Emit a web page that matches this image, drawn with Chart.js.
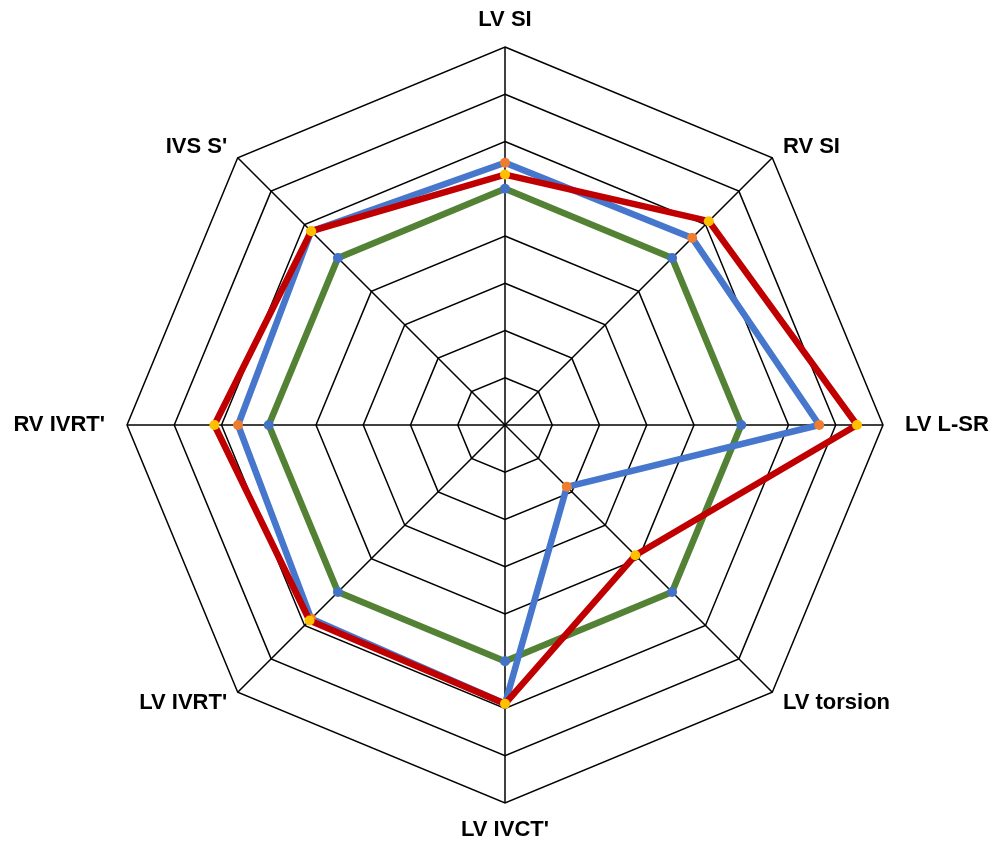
<!DOCTYPE html>
<html>
<head>
<meta charset="utf-8">
<script src="https://cdn.jsdelivr.net/npm/chart.js@4"></script>
<style>
  html, body { margin: 0; padding: 0; background: #ffffff; }
  #wrap { width: 997px; height: 850px; position: relative; }
</style>
</head>
<body>
<div id="wrap"><canvas id="radar"></canvas></div>
<script>
// Axis names, clockwise from the top
const categories = ["LV SI", "RV SI", "LV L-SR", "LV torsion", "LV IVCT'", "LV IVRT'", "RV IVRT'", "IVS S'"];

// Values in % of the reference profile
const referenceValues = [100, 100, 100, 100, 100, 100, 100, 100];
const blueValues      = [111, 112, 133, 37, 118, 116, 113, 116];
const redValues       = [106, 122, 149, 78, 118, 117, 123, 116];

// Radial scale: rings every 20 %, up to 160 %
const scaleMin = 0;
const scaleMax = 160;
const scaleStep = 20;

// Axis titles drawn just outside the outer polygon
const axisTitles = {
  id: 'axisTitles',
  afterDraw(chart) {
    const s = chart.scales.r;
    const ctx = chart.ctx;
    ctx.save();
    ctx.font = 'bold 22px "Liberation Sans", Arial, sans-serif';
    ctx.fillStyle = '#000000';
    ctx.textBaseline = 'middle';
    s.getLabels().forEach((label, i) => {
      const dir = s.getPointPosition(i, 100);
      const dx0 = dir.x - s.xCenter;
      const dy0 = dir.y - s.yCenter;
      let extra;
      if (Math.abs(dx0) < 1) extra = 27;          // top / bottom
      else if (Math.abs(dy0) < 1) extra = 22;     // left / right
      else extra = 15;                            // diagonals
      const p = s.getPointPosition(i, s.drawingArea + extra);
      const dx = p.x - s.xCenter;
      ctx.textAlign = Math.abs(dx) < 1 ? 'center' : (dx > 0 ? 'left' : 'right');
      ctx.fillText(label, p.x, p.y);
    });
    ctx.restore();
  }
};

new Chart(document.getElementById('radar'), {
  type: 'radar',
  data: {
    labels: categories,
    datasets: [
      {
        label: 'Red',
        data: redValues,
        borderColor: '#C00000',
        backgroundColor: '#FFC000',
        pointBackgroundColor: '#FFC000',
        pointBorderWidth: 0,
        pointRadius: 5,
        borderWidth: 6.5,
        fill: false,
        order: 0
      },
      {
        label: 'Blue',
        data: blueValues,
        borderColor: '#4677CC',
        backgroundColor: '#ED7D31',
        pointBackgroundColor: '#ED7D31',
        pointBorderWidth: 0,
        pointRadius: 5,
        borderWidth: 6.5,
        fill: false,
        order: 1
      },
      {
        label: 'Reference',
        data: referenceValues,
        borderColor: '#548235',
        backgroundColor: '#4472C4',
        pointBackgroundColor: '#4472C4',
        pointBorderWidth: 0,
        pointRadius: 5,
        borderWidth: 6.5,
        fill: false,
        order: 2
      }
    ]
  },
  options: {
    responsive: true,
    maintainAspectRatio: false,
    animation: false,
    layout: { padding: { top: 47, bottom: 47, left: 13, right: 0 } },
    elements: {
      line: { tension: 0, borderJoinStyle: 'round', borderCapStyle: 'round' }
    },
    plugins: {
      legend: { display: false },
      tooltip: { enabled: false }
    },
    scales: {
      r: {
        min: scaleMin,
        max: scaleMax,
        ticks: { stepSize: scaleStep, display: false },
        grid: { color: '#000000', lineWidth: 1.5, circular: false },
        angleLines: { color: '#000000', lineWidth: 1.5 },
        pointLabels: { display: false }
      }
    }
  },
  plugins: [axisTitles]
});
</script>
</body>
</html>
